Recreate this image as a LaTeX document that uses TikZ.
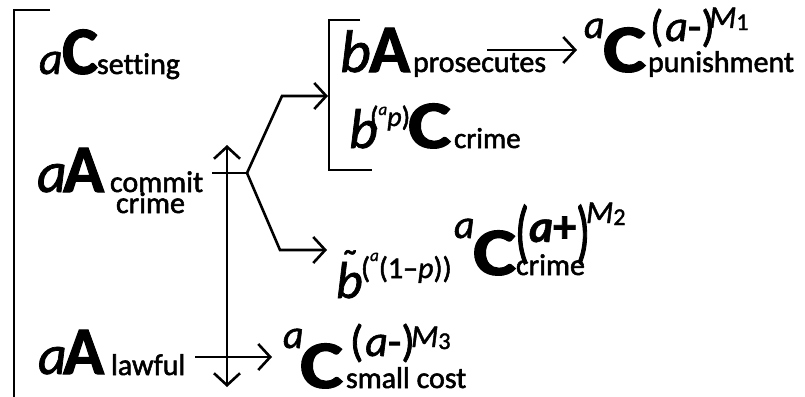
\documentclass[tikz,border=0pt]{standalone}
\usepackage{fontspec}
\usepackage{graphicx}
\setmainfont{Carlito}[Ligatures=NoCommon]
\newfontfamily\bigf{Carlito Bold}[FakeBold=1.5]
\newfontfamily\itf{Carlito Italic}[FakeBold=1.3]
\newfontfamily\bitf{Carlito Bold Italic}[FakeBold=1]
\newfontfamily\subf{Carlito}[FakeBold=1.8, Ligatures=NoCommon]
\usetikzlibrary{arrows.meta}
\newcommand\fs[1]{\fontsize{#1}{#1}\selectfont}
\newcommand\wideC{\scalebox{1.2}[1]{C}}
\begin{document}
\begin{tikzpicture}[x=1pt,y=-1pt,
  t/.style={inner sep=0pt, outer sep=0pt, anchor=base west},
  big/.style={t, font=\bigf\fs{68}},
  ita/.style={t, font=\itf\fs{56}},
  sita/.style={t, font=\itf\fs{40}},
  sub/.style={t, font=\subf\fs{30}},
  sup/.style={t, font=\subf\fs{44}},
  msup/.style={t, font=\itf\fs{32}},
  ln/.style={line width=2.6pt},
  tip/.tip={Straight Barb[length=12pt,width=26pt]},
  arr/.style={ln, -tip},
]
\useasboundingbox (0,0) rectangle (805,396);
% label 1
\node[ita, font=\itf\fs{46}] (a1) at (39,74) {a};
\node[big] (C1) at (62,74) {C};
\node[sub] (s1) at (97,74) {setting};
% label 2
\node[ita, font=\itf\fs{58}] (a2) at (37,192) {a};
\node[big] (A2) at (63,192) {A};
\node[sub] (s2) at (110,192) {commit};
\node[sub] (s2b) at (116,213) {crime};
% label 3
\node[ita] (a3) at (38,374) {a};
\node[big] (A3) at (63,374) {A};
\node[sub] (s3) at (111,375) {lawful};
% prosecutes
\node[ita, font=\itf\fs{60}] (b6) at (340,72) {b};
\node[big] (A6) at (369,72) {A};
\node[sub] (s6) at (413,72) {prosecutes};
% punishment
\node[sita] (a8) at (584,38) {a};
\node[big] (C8) at (603,72) {\wideC};
\node[sup] (p8) at (650,41) {(\hspace{2pt}\itf a\subf-)};
\node[msup] (m8) at (709,28) {M\raisebox{-2pt}{\subf\fs{24}1}};
\node[sub] (s8) at (648,72) {punishment};
% b crime
\node[ita] (b9) at (349,148) {b};
\node[t, font=\subf\fs{28}] (p9) at (370,126) {(\raisebox{11pt}{\itf\fs{17}a}\itf p\subf)};
\node[big] (C9) at (408,148) {\wideC};
\node[t, font=\subf\fs{29}] (s9) at (454,148) {crime};
% b tilde
\node[ita, font=\itf\fs{52}] (b10) at (336,298) {b};
\node[t, font=\subf\fs{40}] (tl10) at (341,277) {\char"02DC};
\node[t, font=\subf\fs{30}] (p10) at (361,278) {(\raisebox{17pt}{\itf\fs{17}a}(1–\itf p\subf))};
\node[sita] (a10) at (454,238) {a};
\node[big] (C10) at (473,275) {\wideC};
\node[t, font=\bitf\fs{46}] (p10b) at (515,242) {\raisebox{-13pt}{\scalebox{1}[1.5]{\subf(}}a\bigf+\raisebox{-13pt}{\scalebox{1}[1.5]{\subf)}}};
\node[msup] (m10) at (586,223) {M\raisebox{-2pt}{\subf\fs{24}2}};
\node[sub] (s10) at (516,275) {crime};
% small cost
\node[sita] (a13) at (283,348) {a};
\node[big] (C13) at (300,388) {\wideC};
\node[sup] (p13) at (350,356) {(\hspace{2pt}\itf a\subf-)};
\node[msup] (m13) at (411,347) {M\raisebox{-2pt}{\subf\fs{24}3}};
\node[sub] (s13) at (346,388) {small cost};
% coordinates
\coordinate (B1a) at (50,10);
\coordinate (B1b) at (14,10);
\coordinate (B1c) at (14,400);
\coordinate (B2a) at (360,20);
\coordinate (B2b) at (329,20);
\coordinate (B2c) at (329,170);
\coordinate (B2d) at (372,170);
\coordinate (V1) at (227,145);
\coordinate (V2) at (227,387);
\coordinate (J0) at (212,173);
\coordinate (J1) at (247,173);
\coordinate (U1) at (282,96);
\coordinate (U2) at (328,96);
\coordinate (L1) at (280,250);
\coordinate (L2) at (327,250);
\coordinate (P1) at (487,50);
\coordinate (P2) at (577,50);
\coordinate (W1) at (195,357);
\coordinate (W2) at (272,357);
% lines
\draw[ln] (B1a) -- (B1b) -- (B1c);
\draw[ln] (B2a) -- (B2b) -- (B2c) -- (B2d);
\draw[ln, tip-tip] (V1) -- (V2);
\draw[ln] (J0) -- (J1);
\draw[arr] (J1) -- (U1) -- (U2);
\draw[arr] (J1) -- (L1) -- (L2);
\draw[arr] (P1) -- (P2);
\draw[arr] (W1) -- (W2);
\end{tikzpicture}
\end{document}
